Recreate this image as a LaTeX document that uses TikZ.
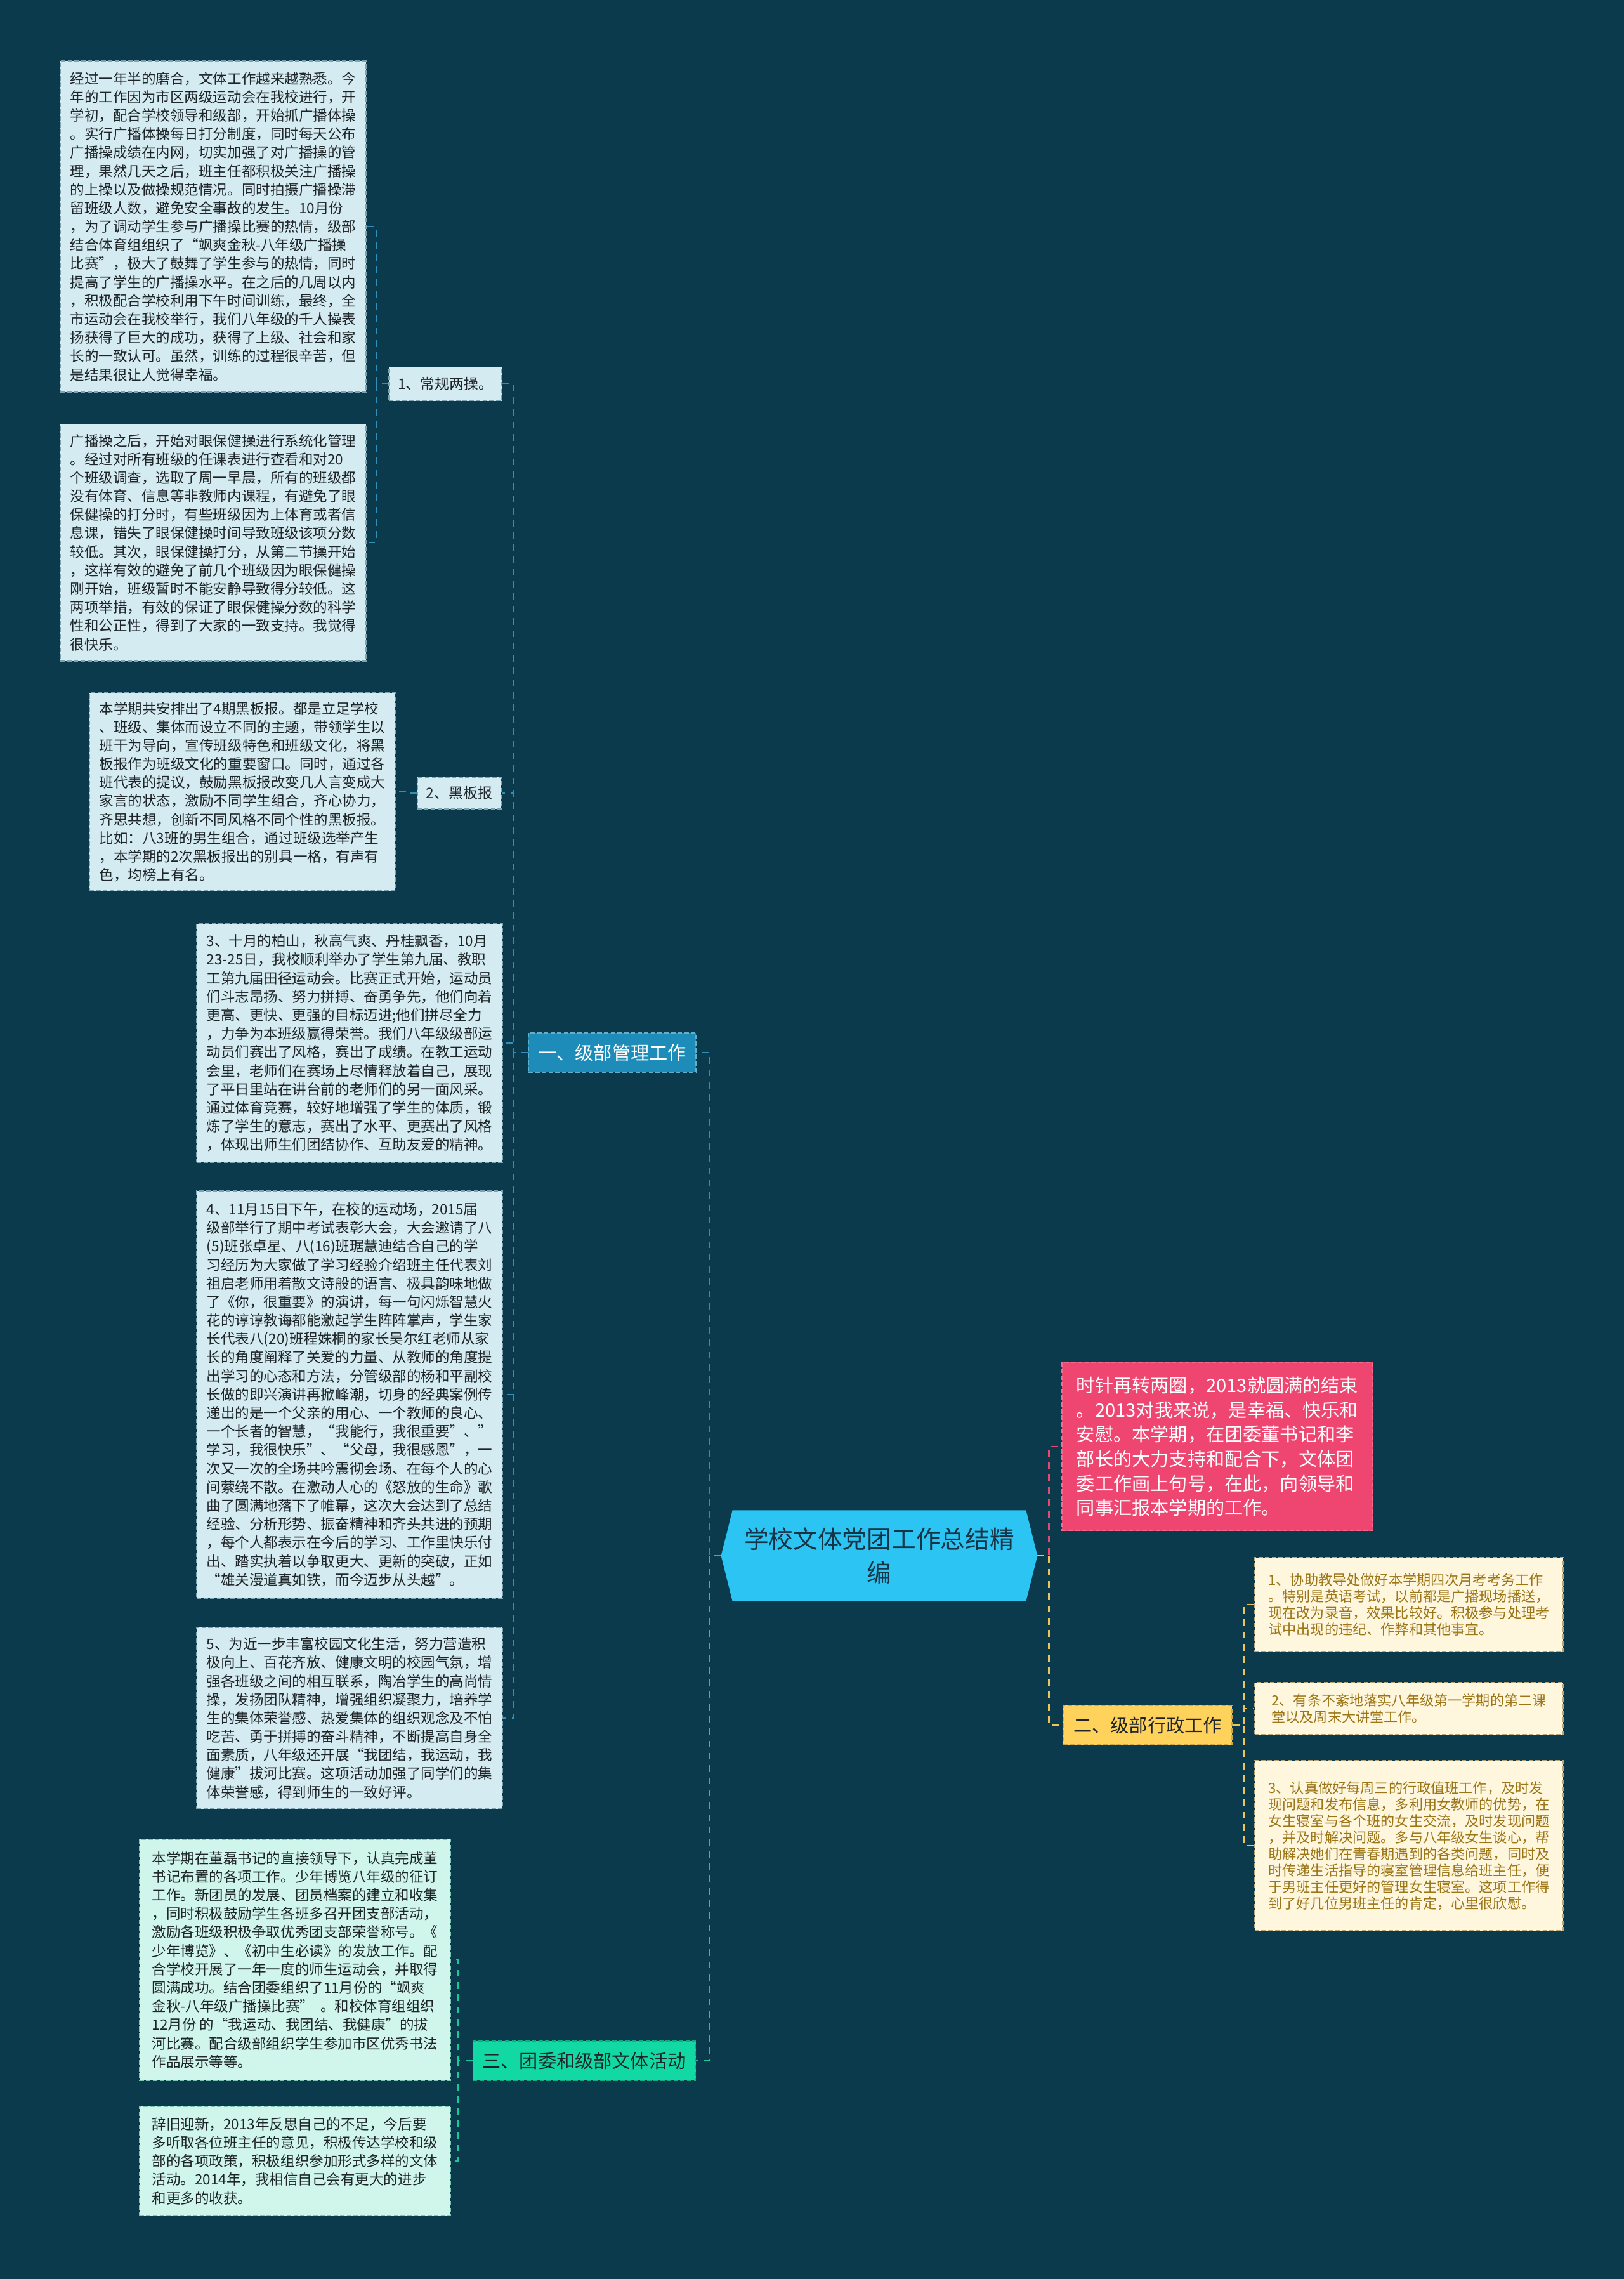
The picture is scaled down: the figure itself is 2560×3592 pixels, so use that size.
\documentclass[tikz,border=0pt]{standalone}
\usepackage{fontspec}
\setmainfont{Noto Sans CJK SC}
\usepackage{tikz}
\usepackage{xcolor}
\usetikzlibrary{calc,backgrounds}
\definecolor{bgteal}{HTML}{0B3A4D}
\definecolor{rootblue}{HTML}{2CC4F2}
\definecolor{rootink}{HTML}{173447}
\definecolor{mgmtblue}{HTML}{1D8CB8}
\definecolor{palecard}{HTML}{D5EBF2}
\definecolor{paleedge}{HTML}{7DA3B0}
\definecolor{ink}{HTML}{1E2528}
\definecolor{rosered}{HTML}{EE4670}
\definecolor{goldfill}{HTML}{FFD25C}
\definecolor{creamfill}{HTML}{FFF6DE}
\definecolor{creamink}{HTML}{9C7516}
\definecolor{creamedge}{HTML}{B9A677}
\definecolor{mintfill}{HTML}{12D9A3}
\definecolor{mintpale}{HTML}{D0F6EC}
\definecolor{mintedge}{HTML}{7CC7B4}
\definecolor{linkblue}{HTML}{2E90BB}
\definecolor{linkgreen}{HTML}{18C99A}
\definecolor{linkgold}{HTML}{EBC55A}
\definecolor{linkpink}{HTML}{E8476F}
\tikzset{
  basebox/.style={line width=0.5pt,dash pattern=on 2pt off 1pt,
                  inner xsep=4pt,inner ysep=1pt,align=left},
  bluecard/.style={basebox,draw=paleedge,fill=palecard,text=ink,
                   font=\fontsize{6.4}{8.3}\selectfont},
  mintcard/.style={basebox,draw=mintedge,fill=mintpale,text=ink,
                   font=\fontsize{6.4}{8.3}\selectfont},
  creamcard/.style={basebox,draw=creamedge,fill=creamfill,text=creamink,
                    font=\fontsize{6.3}{7.4}\selectfont},
  rosecard/.style={basebox,draw=rosered!80!white,fill=rosered,text=white,
                   font=\fontsize{8.3}{11}\selectfont},
  subtag/.style={basebox,draw=paleedge,fill=palecard,text=ink,align=center,
                 font=\fontsize{6.5}{8}\selectfont},
  maintag/.style={basebox,align=center,font=\fontsize{8.3}{10}\selectfont,
                  minimum height=0.62cm},
  roottag/.style={align=center,text=rootink,inner sep=0pt,
                  font=\fontsize{11}{15}\selectfont},
  bluelink/.style={draw=linkblue,line width=0.8pt,dash pattern=on 3pt off 2.5pt},
  greenlink/.style={draw=linkgreen,line width=0.8pt,dash pattern=on 3pt off 2.5pt},
  goldlink/.style={draw=linkgold,line width=0.8pt,dash pattern=on 3pt off 2.5pt},
  pinklink/.style={draw=linkpink,line width=0.8pt,dash pattern=on 3pt off 2.5pt}
}

\begin{document}
\begin{tikzpicture}[x=0.01cm,y=-0.01cm]
  \useasboundingbox (0,0) rectangle (2560,3592);
  \node[roottag,minimum width=4.97cm,minimum height=1.42cm] (root) at (1386,2452)
    {学校文体党团工作总结精\\编};
  \begin{scope}[on background layer]
    \fill[bgteal] (0,0) rectangle (2560,3592);
    \fill[rootblue] (root.west) -- ($(root.north west)+(18,0)$)
      -- ($(root.north east)+(-18,0)$) -- (root.east)
      -- ($(root.south east)+(-18,0)$) -- ($(root.south west)+(18,0)$) -- cycle;
  \end{scope}

  \node[maintag,draw=mgmtblue!70!white,fill=mgmtblue,text=white,minimum width=2.64cm]
    (mgmt) at (965,1659) {一、级部管理工作};
  \node[maintag,draw=goldfill!80!black,fill=goldfill,text=ink,minimum width=2.66cm]
    (admin) at (1809,2719) {二、级部行政工作};
  \node[maintag,draw=mintfill!80!black,fill=mintfill,text=ink,minimum width=3.51cm]
    (league) at (921,3248) {三、团委和级部文体活动};

  \node[rosecard,minimum width=4.90cm,minimum height=2.65cm] (intro) at (1919,2280)
    {时针再转两圈，2013就圆满的结束\\
     。2013对我来说，是幸福、快乐和\\
     安慰。本学期，在团委董书记和李\\
     部长的大力支持和配合下，文体团\\
     委工作画上句号，在此，向领导和\\
     同事汇报本学期的工作。};

  \node[subtag,minimum width=1.76cm,minimum height=0.53cm] (drill) at (702,605)
    {1、常规两操。};
  \node[subtag,minimum width=1.31cm,minimum height=0.50cm] (board) at (724,1250)
    {2、黑板报};

  \node[bluecard,minimum width=4.81cm,minimum height=5.22cm] (bcast) at (336,357)
    {经过一年半的磨合，文体工作越来越熟悉。今\\
     年的工作因为市区两级运动会在我校进行，开\\
     学初，配合学校领导和级部，开始抓广播体操\\
     。实行广播体操每日打分制度，同时每天公布\\
     广播操成绩在内网，切实加强了对广播操的管\\
     理，果然几天之后，班主任都积极关注广播操\\
     的上操以及做操规范情况。同时拍摄广播操滞\\
     留班级人数，避免安全事故的发生。10月份\\
     ，为了调动学生参与广播操比赛的热情，级部\\
     结合体育组组织了“飒爽金秋-八年级广播操\\
     比赛”，极大了鼓舞了学生参与的热情，同时\\
     提高了学生的广播操水平。在之后的几周以内\\
     ，积极配合学校利用下午时间训练，最终，全\\
     市运动会在我校举行，我们八年级的千人操表\\
     扬获得了巨大的成功，获得了上级、社会和家\\
     长的一致认可。虽然，训练的过程很辛苦，但\\
     是结果很让人觉得幸福。};
  \node[bluecard,minimum width=4.81cm,minimum height=3.73cm] (eyes) at (336,855)
    {广播操之后，开始对眼保健操进行系统化管理\\
     。经过对所有班级的任课表进行查看和对20\\
     个班级调查，选取了周一早晨，所有的班级都\\
     没有体育、信息等非教师内课程，有避免了眼\\
     保健操的打分时，有些班级因为上体育或者信\\
     息课，错失了眼保健操时间导致班级该项分数\\
     较低。其次，眼保健操打分，从第二节操开始\\
     ，这样有效的避免了前几个班级因为眼保健操\\
     刚开始，班级暂时不能安静导致得分较低。这\\
     两项举措，有效的保证了眼保健操分数的科学\\
     性和公正性，得到了大家的一致支持。我觉得\\
     很快乐。};
  \node[bluecard,minimum width=4.81cm,minimum height=3.12cm] (chalk) at (382,1248)
    {本学期共安排出了4期黑板报。都是立足学校\\
     、班级、集体而设立不同的主题，带领学生以\\
     班干为导向，宣传班级特色和班级文化，将黑\\
     板报作为班级文化的重要窗口。同时，通过各\\
     班代表的提议，鼓励黑板报改变几人言变成大\\
     家言的状态，激励不同学生组合，齐心协力，\\
     齐思共想，创新不同风格不同个性的黑板报。\\
     比如：八3班的男生组合，通过班级选举产生\\
     ，本学期的2次黑板报出的别具一格，有声有\\
     色，均榜上有名。};
  \node[bluecard,minimum width=4.81cm,minimum height=3.76cm] (sport) at (551,1644)
    {3、十月的柏山，秋高气爽、丹桂飘香，10月\\
     23-25日，我校顺利举办了学生第九届、教职\\
     工第九届田径运动会。比赛正式开始，运动员\\
     们斗志昂扬、努力拼搏、奋勇争先，他们向着\\
     更高、更快、更强的目标迈进;他们拼尽全力\\
     ，力争为本班级赢得荣誉。我们八年级级部运\\
     动员们赛出了风格，赛出了成绩。在教工运动\\
     会里，老师们在赛场上尽情释放着自己，展现\\
     了平日里站在讲台前的老师们的另一面风采。\\
     通过体育竞赛，较好地增强了学生的体质，锻\\
     炼了学生的意志，赛出了水平、更赛出了风格\\
     ，体现出师生们团结协作、互助友爱的精神。};
  \node[bluecard,minimum width=4.81cm,minimum height=6.41cm] (meet) at (551,2198)
    {4、11月15日下午，在校的运动场，2015届\\
     级部举行了期中考试表彰大会，大会邀请了八\\
     (5)班张卓星、八(16)班琚慧迪结合自己的学\\
     习经历为大家做了学习经验介绍班主任代表刘\\
     祖启老师用着散文诗般的语言、极具韵味地做\\
     了《你，很重要》的演讲，每一句闪烁智慧火\\
     花的谆谆教诲都能激起学生阵阵掌声，学生家\\
     长代表八(20)班程姝桐的家长吴尔红老师从家\\
     长的角度阐释了关爱的力量、从教师的角度提\\
     出学习的心态和方法，分管级部的杨和平副校\\
     长做的即兴演讲再掀峰潮，切身的经典案例传\\
     递出的是一个父亲的用心、一个教师的良心、\\
     一个长者的智慧，“我能行，我很重要”、”\\
     学习，我很快乐”、“父母，我很感恩”，一\\
     次又一次的全场共吟震彻会场、在每个人的心\\
     间萦绕不散。在激动人心的《怒放的生命》歌\\
     曲了圆满地落下了帷幕，这次大会达到了总结\\
     经验、分析形势、振奋精神和齐头共进的预期\\
     ，每个人都表示在今后的学习、工作里快乐付\\
     出、踏实执着以争取更大、更新的突破，正如\\
     “雄关漫道真如铁，而今迈步从头越”。};
  \node[bluecard,minimum width=4.81cm,minimum height=2.86cm] (tug) at (551,2708)
    {5、为近一步丰富校园文化生活，努力营造积\\
     极向上、百花齐放、健康文明的校园气氛，增\\
     强各班级之间的相互联系，陶冶学生的高尚情\\
     操，发扬团队精神，增强组织凝聚力，培养学\\
     生的集体荣誉感、热爱集体的组织观念及不怕\\
     吃苦、勇于拼搏的奋斗精神，不断提高自身全\\
     面素质，八年级还开展“我团结，我运动，我\\
     健康”拔河比赛。这项活动加强了同学们的集\\
     体荣誉感，得到师生的一致好评。};

  \node[mintcard,minimum width=4.90cm,minimum height=3.80cm] (youth) at (465,3089)
    {本学期在董磊书记的直接领导下，认真完成董\\
     书记布置的各项工作。少年博览八年级的征订\\
     工作。新团员的发展、团员档案的建立和收集\\
     ，同时积极鼓励学生各班多召开团支部活动，\\
     激励各班级积极争取优秀团支部荣誉称号。《\\
     少年博览》、《初中生必读》的发放工作。配\\
     合学校开展了一年一度的师生运动会，并取得\\
     圆满成功。结合团委组织了11月份的“飒爽\\
     金秋-八年级广播操比赛”\ \ 。和校体育组组织\\
     12月份 的“我运动、我团结、我健康”的拔\\
     河比赛。配合级部组织学生参加市区优秀书法\\
     作品展示等等。};
  \node[mintcard,minimum width=4.90cm,minimum height=1.72cm] (ahead) at (465,3406)
    {辞旧迎新，2013年反思自己的不足，今后要\\
     多听取各位班主任的意见，积极传达学校和级\\
     部的各项政策，积极组织参加形式多样的文体\\
     活动。2014年，我相信自己会有更大的进步\\
     和更多的收获。};

  \node[creamcard,minimum width=4.86cm,minimum height=1.48cm] (exams) at (2221,2529)
    {1、协助教导处做好本学期四次月考考务工作\\
     。特别是英语考试，以前都是广播现场播送，\\
     现在改为录音，效果比较好。积极参与处理考\\
     试中出现的违纪、作弊和其他事宜。};
  \node[creamcard,minimum width=4.86cm,minimum height=0.82cm] (lectures) at (2221,2693)
    {2、有条不紊地落实八年级第一学期的第二课\\
     堂以及周末大讲堂工作。};
  \node[creamcard,minimum width=4.86cm,minimum height=2.68cm] (duty) at (2221,2909)
    {3、认真做好每周三的行政值班工作，及时发\\
     现问题和发布信息，多利用女教师的优势，在\\
     女生寝室与各个班的女生交流，及时发现问题\\
     ，并及时解决问题。多与八年级女生谈心，帮\\
     助解决她们在青春期遇到的各类问题，同时及\\
     时传递生活指导的寝室管理信息给班主任，便\\
     于男班主任更好的管理女生寝室。这项工作得\\
     到了好几位男班主任的肯定，心里很欣慰。};

  \draw[bluelink] (root.west) -- ++(-18,0) |- (mgmt.east);
  \draw[greenlink] (root.west) -- ++(-18,0) |- (league.east);
  \draw[pinklink] (root.east) -- ++(18,0) |- (intro.west);
  \draw[goldlink] (root.east) -- ++(18,0) |- (admin.west);
  \foreach \kid in {drill,board,sport,meet,tug}
    \draw[bluelink] (mgmt.west) -- ++(-22,0) |- (\kid.east);
  \foreach \kid in {bcast,eyes}
    \draw[bluelink] (drill.west) -- ++(-19,0) |- (\kid.east);
  \draw[bluelink] (board.west) -- ++(-18,0) |- (chalk.east);
  \foreach \kid in {youth,ahead}
    \draw[greenlink] (league.west) -- ++(-22,0) |- (\kid.east);
  \foreach \kid in {exams,lectures,duty}
    \draw[goldlink] (admin.east) -- ++(18,0) |- (\kid.west);
\end{tikzpicture}
\end{document}
